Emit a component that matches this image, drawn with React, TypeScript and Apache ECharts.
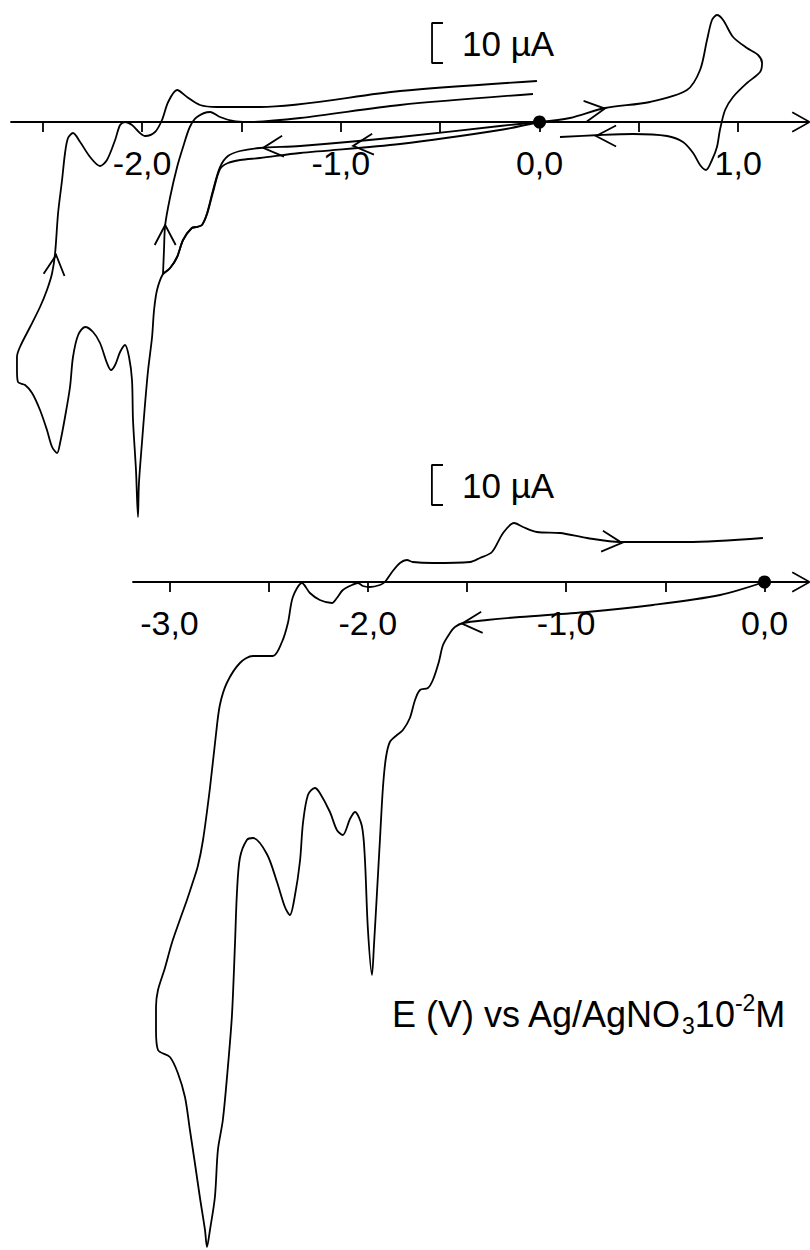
import React, { useEffect, useRef } from 'react';
import * as echarts from 'echarts';

const FONT = '"Liberation Sans", Arial, Helvetica, sans-serif';

// Potential (V) tick positions and labels
const TOP_TICKS = [-2.5, -2, -1.5, -1, -0.5, 0, 0.5, 1];
const TOP_LABELS = [-2, -1, 0, 1];
const BOTTOM_TICKS = [-3, -2.5, -2, -1.5, -1, -0.5, 0];
const BOTTOM_LABELS = [-3, -2, -1, 0];

// Top voltammogram: [E (V), I (µA)]
const TOP_OXIDATION = [
  [0.0, 0.0], [0.153, 1.0], [0.33, 3.5], [0.556, 5.0], [0.742, 8.0], [0.808, 13.0], [0.843, 20.5],
  [0.868, 25.5], [0.893, 26.75], [0.924, 25.5], [0.974, 21.25], [1.044, 18.5], [1.1, 16.75],
  [1.12, 14.75], [1.11, 12.5], [1.044, 9.75], [0.974, 6.25], [0.934, 3.0], [0.908, -2.0],
  [0.893, -6.25], [0.868, -9.5], [0.838, -12.0], [0.808, -10.75], [0.773, -7.75], [0.722, -5.0],
  [0.642, -3.5], [0.471, -3.0], [0.304, -3.25], [0.103, -3.75],
];

const TOP_CYCLE_1 = [
  [0.0, 0.0], [-0.199, -1.0], [-0.702, -3.75], [-1.205, -6.0], [-1.407, -6.5], [-1.507, -7.25],
  [-1.568, -8.5], [-1.608, -11.25], [-1.643, -17.0], [-1.673, -22.75], [-1.699, -25.75],
  [-1.724, -26.25], [-1.75, -26.5], [-1.794, -29.5], [-1.824, -33.75], [-1.859, -36.5],
  [-1.895, -38.0], [-1.89, -32.0], [-1.884, -25.75], [-1.859, -18.75], [-1.824, -11.25],
  [-1.794, -6.25], [-1.76, -1.25], [-1.724, 1.25], [-1.658, 2.5], [-1.608, 1.25], [-1.543, 0.25],
  [-1.472, 0.0], [-1.205, 1.0], [-0.702, 4.25], [-0.033, 7.0],
];

const TOP_CYCLE_2 = [
  [0.0, 0.0], [-0.199, -2.0], [-0.702, -5.5], [-1.205, -7.75], [-1.407, -9.0], [-1.507, -9.5],
  [-1.568, -10.25], [-1.608, -11.75], [-1.643, -17.5], [-1.673, -23.0], [-1.699, -25.75],
  [-1.724, -26.25], [-1.75, -26.5], [-1.794, -29.5], [-1.824, -33.75], [-1.859, -36.5],
  [-1.895, -38.0], [-1.925, -42.0], [-1.94, -47.0], [-1.95, -53.75], [-1.97, -62.0],
  [-1.985, -70.25], [-2.001, -80.25], [-2.016, -90.25], [-2.021, -98.75], [-2.031, -87.0],
  [-2.046, -74.5], [-2.051, -64.5], [-2.066, -58.75], [-2.086, -55.75], [-2.111, -57.5],
  [-2.136, -60.75], [-2.157, -62.0], [-2.177, -60.25], [-2.212, -55.25], [-2.247, -52.5],
  [-2.287, -51.25], [-2.322, -53.25], [-2.348, -58.75], [-2.363, -66.25], [-2.388, -73.75],
  [-2.413, -80.25], [-2.428, -82.75], [-2.453, -81.25], [-2.479, -77.0], [-2.514, -72.0],
  [-2.554, -67.75], [-2.589, -65.75], [-2.625, -65.0], [-2.63, -62.0], [-2.63, -58.75],
  [-2.615, -56.25], [-2.564, -51.25], [-2.514, -46.25], [-2.479, -42.0], [-2.453, -37.75],
  [-2.438, -32.75], [-2.423, -22.75], [-2.403, -14.5], [-2.388, -7.75], [-2.373, -4.0],
  [-2.348, -2.75], [-2.312, -5.0], [-2.262, -8.75], [-2.212, -11.0], [-2.177, -9.5],
  [-2.136, -4.5], [-2.111, -0.75], [-2.086, 0.0], [-2.051, -0.75], [-2.011, -2.75],
  [-1.985, -3.5], [-1.935, -2.5], [-1.9, 0.5], [-1.869, 5.0], [-1.824, 8.0], [-1.774, 6.25],
  [-1.709, 4.25], [-1.623, 3.75], [-1.407, 3.75], [-0.702, 7.75], [-0.013, 10.25],
];

// Bottom voltammogram: [E (V), I (µA)]
const BOTTOM_SCAN = [
  [0.0, 0.0], [-0.224, -3.25], [-0.562, -5.75], [-0.895, -7.5], [-1.233, -8.75], [-1.399, -9.5],
  [-1.52, -10.25], [-1.561, -11.25], [-1.586, -12.75], [-1.621, -15.75], [-1.642, -20.0],
  [-1.672, -24.5], [-1.697, -26.5], [-1.737, -27.0], [-1.762, -29.5], [-1.788, -34.0],
  [-1.823, -37.0], [-1.853, -38.25], [-1.889, -40.0], [-1.909, -44.0], [-1.924, -51.5],
  [-1.939, -64.5], [-1.954, -77.75], [-1.969, -90.75], [-1.979, -98.25], [-2.0, -86.5],
  [-2.015, -69.0], [-2.03, -61.0], [-2.065, -57.5], [-2.09, -59.25], [-2.126, -63.25],
  [-2.156, -62.0], [-2.191, -57.5], [-2.242, -52.75], [-2.267, -51.5], [-2.302, -53.25],
  [-2.327, -60.25], [-2.342, -69.75], [-2.368, -78.5], [-2.393, -83.25], [-2.418, -81.25],
  [-2.458, -75.0], [-2.509, -68.0], [-2.579, -64.0], [-2.61, -64.5], [-2.645, -69.0],
  [-2.66, -77.75], [-2.67, -90.75], [-2.685, -108.25], [-2.706, -121.5], [-2.731, -134.5],
  [-2.756, -142.0], [-2.771, -153.75], [-2.796, -162.0], [-2.811, -166.25], [-2.821, -162.0],
  [-2.847, -153.75], [-2.872, -145.25], [-2.897, -137.0], [-2.922, -128.75], [-2.958, -122.75],
  [-2.998, -118.75], [-3.058, -117.0], [-3.068, -112.0], [-3.068, -106.25], [-3.058, -102.0],
  [-3.023, -96.5], [-2.988, -90.25], [-2.948, -84.5], [-2.912, -79.5], [-2.887, -75.75],
  [-2.857, -71.0], [-2.831, -64.5], [-2.796, -51.5], [-2.766, -38.25], [-2.746, -30.75],
  [-2.711, -25.25], [-2.645, -20.25], [-2.579, -18.5], [-2.479, -18.5], [-2.433, -15.0],
  [-2.403, -10.25], [-2.378, -3.75], [-2.332, -0.25], [-2.292, -2.75], [-2.242, -4.5],
  [-2.181, -5.25], [-2.156, -4.0], [-2.126, -2.0], [-2.08, -0.75], [-2.05, -0.25], [-2.025, -1.0],
  [-1.989, -1.25], [-1.939, -0.75], [-1.914, 0.0], [-1.878, 2.5], [-1.838, 4.75], [-1.803, 5.5],
  [-1.773, 5.0], [-1.672, 4.75], [-1.485, 5.0], [-1.435, 6.0], [-1.374, 7.5], [-1.318, 12.25],
  [-1.263, 14.75], [-1.218, 13.75], [-1.147, 12.5], [-1.031, 12.25], [-0.895, 11.0],
  [-0.729, 10.0], [-0.391, 10.0], [-0.008, 11.0],
];

// Scan-direction arrows: [E (V), I (µA), direction (deg)]
const TOP_ARROWS = [
  [0.279, 3.0, 8], [0.335, -3.5, 180], [-1.341, -6.25, 185], [-0.888, -5.75, 185],
  [-1.884, -28.25, 90], [-2.438, -35.75, 84],
];
const BOTTOM_ARROWS = [[-0.769, 10.0, -5], [-1.475, -10.25, 184]];

// Starting point of each scan
const START_POINT = [[0, 0]];

// 10 µA scale bars: [E (V), I (µA)]
const TOP_SCALE_BAR = [[-0.486, 24.75], [-0.541, 24.75], [-0.541, 14.75], [-0.486, 14.75]];
const BOTTOM_SCALE_BAR = [[-1.621, 29.25], [-1.677, 29.25], [-1.677, 19.25], [-1.621, 19.25]];
const SCALE_TEXT = '10 µA';

const AXIS_ARROW =
  'path://M10.79,0.44 L0.79,18.44 L-0.79,17.56 L9.21,-0.44 Z M9.21,0.44 L10.79,-0.44 L20.79,17.56 L19.21,18.44 Z M9.1,0 L10.9,0 L10.9,10 L9.1,10 Z';
const CHEVRON = 'path://M0,0 L20,10.5 L0,21';

const fmt = (v: number) => v.toFixed(1).replace('.', ',');

function makeXAxis(
  gridIndex: number,
  min: number,
  max: number,
  ticks: number[],
  labels: number[],
  offset: number
) {
  return {
    gridIndex,
    type: 'value',
    position: 'bottom',
    offset,
    min,
    max,
    axisLine: {
      show: true,
      onZero: false,
      lineStyle: { color: '#000', width: 1.8 },
      symbol: ['none', AXIS_ARROW],
      symbolSize: [21, 19],
    },
    axisTick: {
      show: true,
      inside: false,
      length: 10,
      customValues: ticks,
      lineStyle: { color: '#000', width: 1.8 },
    },
    axisLabel: {
      show: true,
      customValues: labels,
      formatter: fmt,
      fontSize: 34,
      fontFamily: FONT,
      color: '#000',
      margin: 24,
    },
    splitLine: { show: false },
  };
}

function lineSeries(data: number[][], idx: number) {
  return {
    type: 'line',
    xAxisIndex: idx,
    yAxisIndex: idx,
    data,
    showSymbol: false,
    smooth: 0.3,
    clip: false,
    lineStyle: { color: '#000', width: 1.8 },
  };
}

function arrowSeries(arrows: number[][], idx: number) {
  return {
    type: 'scatter',
    xAxisIndex: idx,
    yAxisIndex: idx,
    symbol: CHEVRON,
    symbolSize: [20, 21],
    data: arrows.map((a) => ({ value: [a[0], a[1]], symbolRotate: a[2] })),
    itemStyle: { color: 'rgba(0,0,0,0)', borderColor: '#000', borderWidth: 1.8, opacity: 1 },
    z: 5,
  };
}

function dotSeries(idx: number) {
  return {
    type: 'scatter',
    xAxisIndex: idx,
    yAxisIndex: idx,
    symbol: 'circle',
    symbolSize: 13,
    data: START_POINT,
    itemStyle: { color: '#000', opacity: 1 },
    z: 6,
  };
}

function barSeries(data: number[][], idx: number) {
  return {
    type: 'line',
    xAxisIndex: idx,
    yAxisIndex: idx,
    data,
    showSymbol: false,
    clip: false,
    lineStyle: { color: '#000', width: 1.8 },
  };
}

export default function App() {
  const ref = useRef<HTMLDivElement>(null);

  useEffect(() => {
    if (!ref.current) return;
    const chart = echarts.init(ref.current, undefined, { renderer: 'svg' });
    chart.setOption({
      animation: false,
      backgroundColor: '#fff',
      grid: [
        { left: 11, top: 2, width: 790, height: 520, containLabel: false },
        { left: 133, top: 422, width: 668, height: 824, containLabel: false },
      ],
      xAxis: [
        makeXAxis(0, -2.66, 1.316, TOP_TICKS, TOP_LABELS, -400),
        makeXAxis(1, -3.184, 0.184, BOTTOM_TICKS, BOTTOM_LABELS, -664),
      ],
      yAxis: [
        { gridIndex: 0, type: 'value', min: -100, max: 30, show: false, splitLine: { show: false } },
        { gridIndex: 1, type: 'value', min: -166, max: 40, show: false, splitLine: { show: false } },
      ],
      series: [
        lineSeries(TOP_OXIDATION, 0),
        lineSeries(TOP_CYCLE_1, 0),
        lineSeries(TOP_CYCLE_2, 0),
        lineSeries(BOTTOM_SCAN, 1),
        barSeries(TOP_SCALE_BAR, 0),
        barSeries(BOTTOM_SCALE_BAR, 1),
        arrowSeries(TOP_ARROWS, 0),
        arrowSeries(BOTTOM_ARROWS, 1),
        dotSeries(0),
        dotSeries(1),
      ],
      graphic: [
        {
          type: 'text',
          x: 462,
          y: 43.5,
          style: { text: SCALE_TEXT, fontSize: 35, fontFamily: FONT, fill: '#000', verticalAlign: 'middle' },
        },
        {
          type: 'text',
          x: 462,
          y: 485.5,
          style: { text: SCALE_TEXT, fontSize: 35, fontFamily: FONT, fill: '#000', verticalAlign: 'middle' },
        },
        {
          type: 'text',
          x: 392,
          y: 1014,
          style: {
            text: '{a|E (V) vs Ag/AgNO}{sub|3}{a|10}{sup|-2}{a|M}',
            verticalAlign: 'middle',
            fill: '#000',
            fontFamily: FONT,
            rich: {
              a: { fontSize: 36, lineHeight: 46, fontFamily: FONT, fill: '#000' },
              sub: { fontSize: 23, lineHeight: 23, verticalAlign: 'bottom', fontFamily: FONT, fill: '#000' },
              sup: { fontSize: 23, lineHeight: 23, verticalAlign: 'top', fontFamily: FONT, fill: '#000' },
            },
          },
        },
      ],
    });
    return () => chart.dispose();
  }, []);

  return (
    <div
      ref={ref}
      style={{ position: 'absolute', left: 0, top: 0, width: 810, height: 1250, background: '#fff' }}
    />
  );
}
